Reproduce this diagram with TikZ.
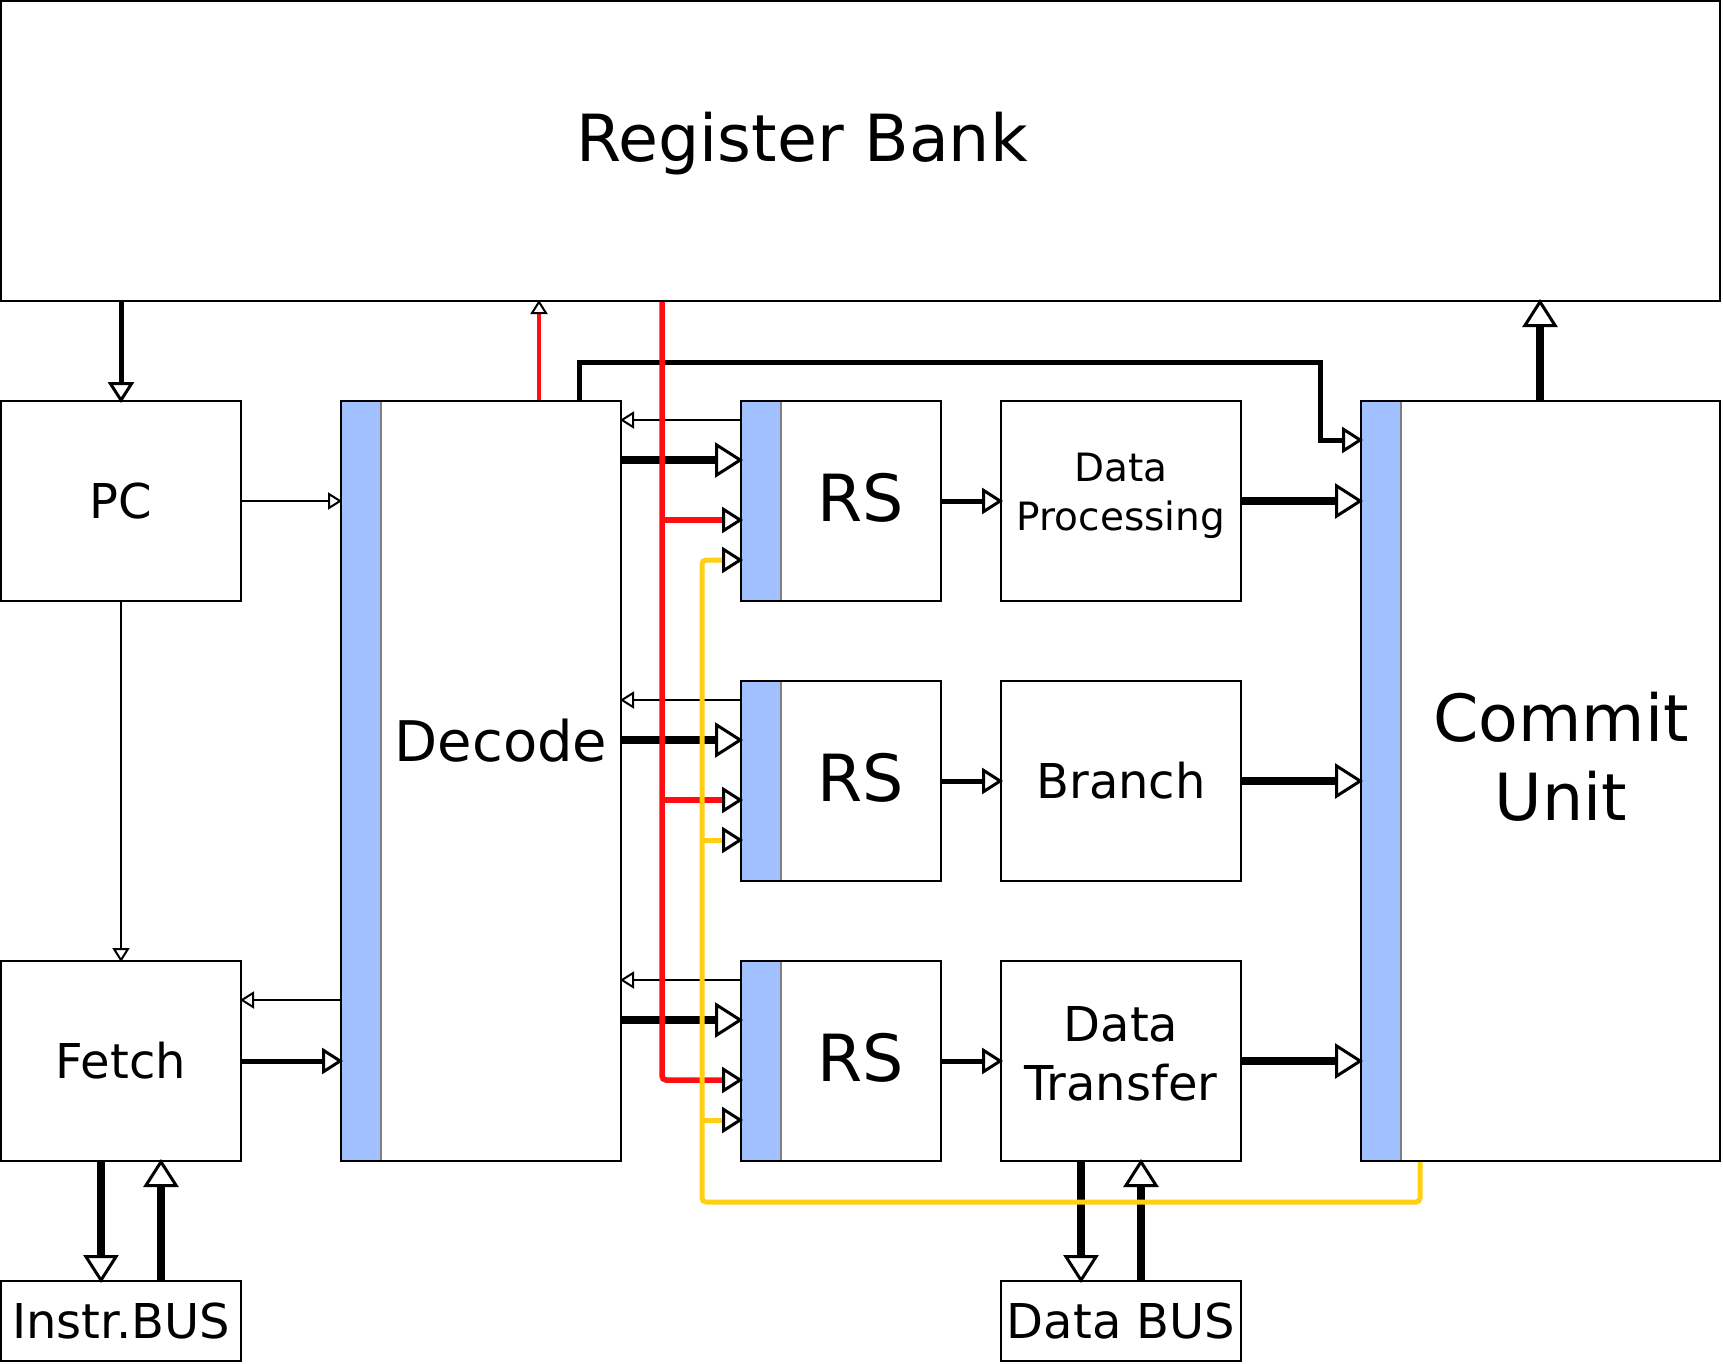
\documentclass[tikz,border=0pt]{standalone}
\usepackage{fontspec}
\setmainfont{DejaVu Sans}
\usetikzlibrary{arrows.meta,calc}
\definecolor{barblue}{HTML}{A0C0FF}
\definecolor{bargray}{HTML}{7F7F7F}
\definecolor{sigred}{HTML}{FF0D12}
\definecolor{sigyellow}{HTML}{FFCF12}
\tikzset{unitbox/.style={draw,line width=2pt,inner sep=0pt,minimum width=240pt,minimum height=200pt}, barbox/.style={path picture={\fill[barblue] (path picture bounding box.north west) rectangle ([xshift=40pt]path picture bounding box.south west); \draw[bargray,line width=2pt] ([xshift=40pt]path picture bounding box.north west) -- ([xshift=40pt]path picture bounding box.south west);}}, bigtext/.style={font=\fontsize{65}{79}\selectfont,inner sep=0pt}, dectext/.style={font=\fontsize{56}{67}\selectfont,inner sep=0pt}, midtext/.style={font=\fontsize{48}{58.3}\selectfont}, tinytext/.style={font=\fontsize{39}{48.3}\selectfont,inner sep=0pt}, thinline/.style={line width=2pt}, midline/.style={line width=5pt}, fatline/.style={line width=8pt}, redline/.style={draw=sigred,line width=5.5pt}, yelline/.style={draw=sigyellow,line width=5pt}, smalltip/.style={shorten >=-2pt,-{Triangle[color=black,fill=white,length=14pt,width=17pt,line width=2pt 0 1]}}, midtip/.style={shorten >=-3pt,-{Triangle[color=black,fill=white,length=21pt,width=26pt,line width=3pt 0 1]}}, bigtip/.style={shorten >=-3pt,-{Triangle[color=black,fill=white,length=28pt,width=35pt,line width=3pt 0 1]}}}
\begin{document}
\begin{tikzpicture}[x=1pt,y=-1pt]
\useasboundingbox (0,0) rectangle (1723,1363);
% blocks
\node[unitbox,minimum width=1719pt,minimum height=300pt] (reg) at (860.5,151) {};
\node[bigtext,anchor=base] (regtxt) at (802,161) {Register Bank};
\node[unitbox,midtext] (pc) at (121,501) {PC};
\node[unitbox,midtext] (fetch) at (121,1061) {Fetch};
\node[unitbox,midtext,minimum height=80pt] (ibus) at (121,1321) {Instr.BUS};
\node[unitbox,barbox,minimum width=280pt,minimum height=760pt] (dec) at (481,781) {};
\node[dectext,anchor=base] (dectxt) at (501,761) {Decode};
\foreach \i/\t in {1/401,2/681,3/961}{
 \node[unitbox,barbox,minimum width=200pt] (rs\i) at (841,\t+100) {};
 \node[bigtext,anchor=base] (rstxt\i) at (861,\t+120) {RS};
}
\node[unitbox] (dp) at (1121,501) {};
\node[tinytext,align=center,anchor=base] (dptxt) at (1121,530) {Data\\Processing};
\node[unitbox,midtext] (br) at (1121,781) {Branch};
\node[unitbox] (dt) at (1121,1061) {};
\node[midtext,inner sep=0pt,align=center,anchor=base] (dttxt) at (1121,1100) {Data\\Transfer};
\node[unitbox,midtext,minimum height=80pt] (dbus) at (1121,1321) {Data BUS};
\node[unitbox,barbox,minimum width=359pt,minimum height=760pt] (com) at (1540.5,781) {};
\node[bigtext,align=center,anchor=base] (comtxt) at (1561,820) {Commit\\Unit};
% front end
\draw[midline,midtip] (reg.south -| pc.north) -- (pc.north);
\draw[thinline,smalltip] (pc.east) -- (pc.east -| dec.west);
\draw[thinline,smalltip] (pc.south) -- (fetch.north);
\draw[thinline,smalltip] ($(fetch.north east -| dec.west)+(0,40)$) -- ($(fetch.north east)+(0,40)$);
\draw[midline,midtip] (fetch.east) -- (fetch.east -| dec.west);
\draw[fatline,bigtip] ([xshift=-20pt]fetch.south) -- ([xshift=-20pt]ibus.north);
\draw[fatline,bigtip] ([xshift=40pt]ibus.north) -- ([xshift=40pt]fetch.south);
\draw[fatline,bigtip] ([xshift=-40pt]dt.south) -- ([xshift=-40pt]dbus.north);
\draw[fatline,bigtip] ([xshift=20pt]dbus.north) -- ([xshift=20pt]dt.south);
\draw[fatline,bigtip] ([xshift=180pt]com.north west) -- ([xshift=180pt]com.north west |- reg.south);
\coordinate (bend) at (1320,362);
\draw[midline,midtip] ([xshift=239pt]dec.north west) |- (bend) |- ($(com.north west)+(0,40)$);
% issue and execute
\foreach \i/\u in {1/dp,2/br,3/dt}{
 \draw[thinline,smalltip] ($(rs\i.north west)+(0,20)$) -- ($(rs\i.north west -| dec.east)+(0,20)$);
 \draw[fatline,bigtip] ($(rs\i.north west -| dec.east)+(0,60)$) -- ($(rs\i.north west)+(0,60)$);
 \draw[midline,midtip] (rs\i.east) -- (\u.west);
 \draw[fatline,bigtip] (\u.east) -- (\u.east -| com.west);
 \path ($(rs\i.north west)+(0,120)$) coordinate (rin\i);
 \path ($(rs\i.north west)+(0,160)$) coordinate (yin\i);
}
% operand paths
\draw[redline,line width=3.5pt,smalltip] ([xshift=199pt]dec.north west) -- ([xshift=199pt]dec.north west |- reg.south);
\coordinate (redtop) at ($(dec.east |- reg.south)+(40,0)$);
\coordinate (yx) at ($(dec.east)+(80,0)$);
\coordinate (ylow) at ($(com.south west)+(60,40)$);
\draw[redline,midtip,rounded corners=4pt] (redtop) |- (rin3);
\foreach \i in {1,2}{
 \draw[redline,midtip] (rin\i -| redtop) -- (rin\i);
}
\draw[yelline,midtip,rounded corners=4pt] ([xshift=60pt]com.south west) -- (ylow) -| (yx |- yin1) -- (yin1);
\foreach \i in {2,3}{
 \draw[yelline,midtip] (yin\i -| yx) -- (yin\i);
}
\end{tikzpicture}
\end{document}
